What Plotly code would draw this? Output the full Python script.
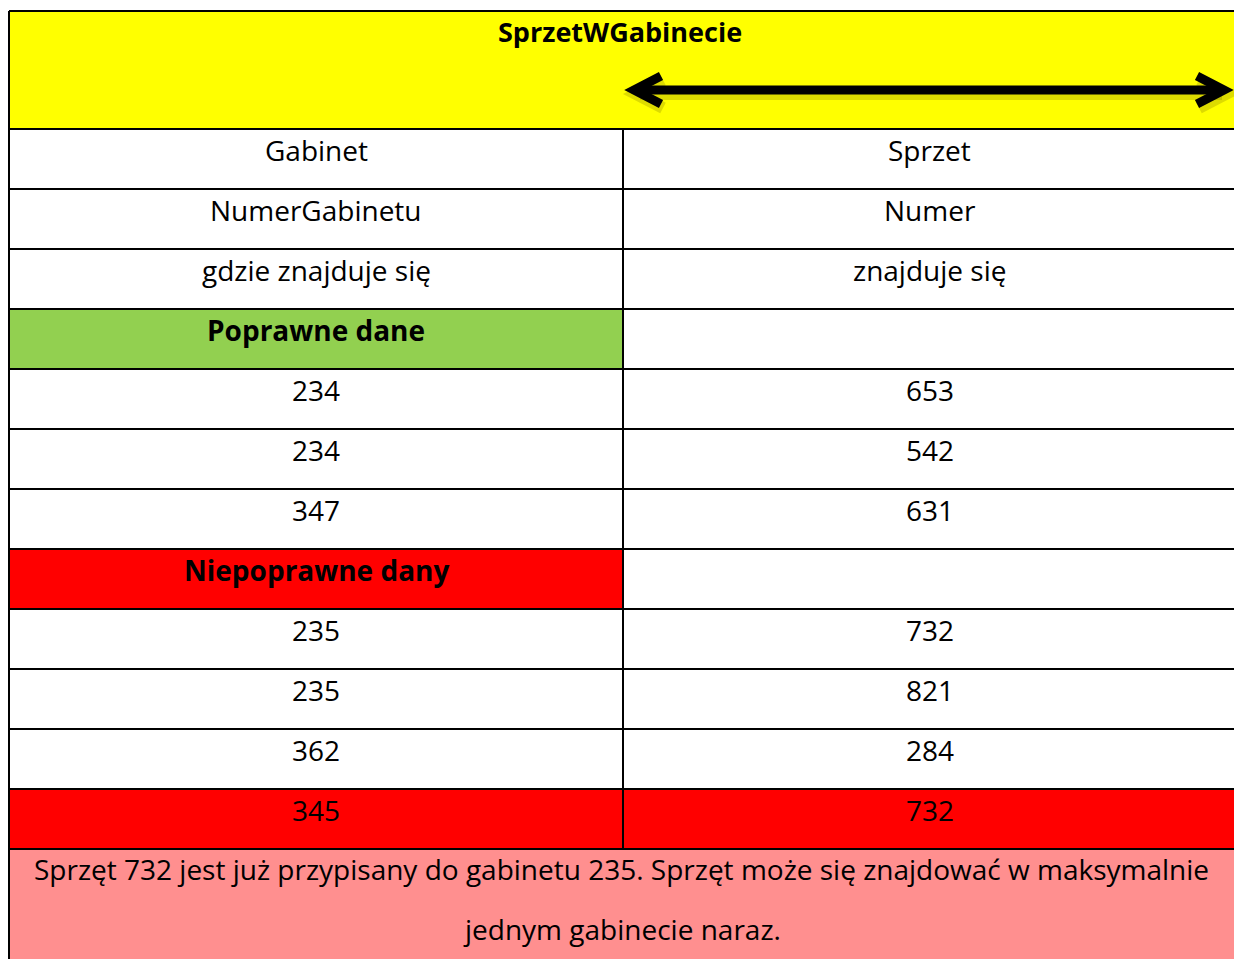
import plotly.graph_objects as go

# ---- data ----
title = "SprzetWGabinecie"
entities = ["Gabinet", "Sprzet"]
key_columns = ["NumerGabinetu", "Numer"]
relation_labels = ["gdzie znajduje się", "znajduje się"]
valid_label = "Poprawne dane"
valid_gabinet = ["234", "234", "347"]
valid_sprzet = ["653", "542", "631"]
invalid_label = "Niepoprawne dany"
invalid_gabinet = ["235", "235", "362", "345"]
invalid_sprzet = ["732", "821", "284", "732"]
message_lines = [
    "Sprzęt 732 jest już przypisany do gabinetu 235. Sprzęt może się znajdować w maksymalnie",
    "jednym gabinecie naraz.",
]

# ---- layout geometry ----
W, H = 1234, 959
X0, XM, X1 = 9, 623, 1236
TOP = 11
HEADER_BOTTOM = 129
ROW_H = 60
FONT = "Open Sans"
FS = 28

YELLOW = "#FFFF00"
GREEN = "#92D050"
RED = "#FF0000"
PINK = "#FF8F8F"

rows = []
rows.append((entities[0], entities[1], None, None, False))
rows.append((key_columns[0], key_columns[1], None, None, False))
rows.append((relation_labels[0], relation_labels[1], None, None, False))
rows.append((valid_label, "", GREEN, None, True))
for g, s in zip(valid_gabinet, valid_sprzet):
    rows.append((g, s, None, None, False))
rows.append((invalid_label, "", RED, None, True))
for i, (g, s) in enumerate(zip(invalid_gabinet, invalid_sprzet)):
    last = i == len(invalid_gabinet) - 1
    rows.append((g, s, RED if last else None, RED if last else None, False))

shapes = []
annotations = []

shapes.append(dict(type="rect", x0=X0, x1=X1, y0=TOP, y1=HEADER_BOTTOM,
                   fillcolor=YELLOW, line=dict(width=0), layer="below"))
annotations.append(dict(x=(X0 + X1) / 2 - 3, y=31, text="<b>%s</b>" % title,
                        showarrow=False, xanchor="center", yanchor="middle",
                        font=dict(family=FONT, size=FS - 1, color="black")))

row_tops = [HEADER_BOTTOM + i * ROW_H for i in range(len(rows))]
table_bottom = row_tops[-1] + ROW_H

for top, (lt, rt, lf, rf, bold) in zip(row_tops, rows):
    if lf:
        shapes.append(dict(type="rect", x0=X0, x1=XM, y0=top, y1=top + ROW_H,
                           fillcolor=lf, line=dict(width=0), layer="below"))
    if rf:
        shapes.append(dict(type="rect", x0=XM, x1=X1, y0=top, y1=top + ROW_H,
                           fillcolor=rf, line=dict(width=0), layer="below"))
    for txt, cx in ((lt, (X0 + XM) / 2), (rt, (XM + X1) / 2)):
        if txt:
            annotations.append(dict(x=cx, y=top + 21, text=("<b>%s</b>" % txt) if bold else txt,
                                    showarrow=False, xanchor="center", yanchor="middle",
                                    font=dict(family=FONT, size=FS, color="black")))

shapes.append(dict(type="rect", x0=X0, x1=X1, y0=table_bottom, y1=H + 5,
                   fillcolor=PINK, line=dict(width=0), layer="below"))
for i, line in enumerate(message_lines):
    annotations.append(dict(x=(X0 + X1) / 2 - 1, y=table_bottom + 20 + i * 60, text=line,
                            showarrow=False, xanchor="center", yanchor="middle",
                            font=dict(family=FONT, size=FS, color="black")))

LW = 2
shapes.append(dict(type="line", x0=X0, x1=X1, y0=TOP, y1=TOP, line=dict(color="black", width=LW)))
shapes.append(dict(type="line", x0=X0, x1=X0, y0=TOP, y1=H + 5, line=dict(color="black", width=LW)))
for y in [HEADER_BOTTOM] + [t + ROW_H for t in row_tops]:
    shapes.append(dict(type="line", x0=X0, x1=X1, y0=y, y1=y, line=dict(color="black", width=LW)))
shapes.append(dict(type="line", x0=XM, x1=XM, y0=HEADER_BOTTOM, y1=table_bottom,
                   line=dict(color="black", width=LW)))

AY = 90
AL, AR = 634, 1224
def arrow_paths(dx, dy):
    l = f"M {AL+27+dx},{AY-14+dy} L {AL+dx},{AY+dy} L {AL+27+dx},{AY+14+dy}"
    r = f"M {AR-27+dx},{AY-14+dy} L {AR+dx},{AY+dy} L {AR-27+dx},{AY+14+dy}"
    m = f"M {AL+4+dx},{AY+dy} L {AR-4+dx},{AY+dy}"
    return [l, r, m]
for p in arrow_paths(2, 4):
    shapes.append(dict(type="path", path=p, line=dict(color="rgba(120,110,0,0.25)", width=12)))
for p in arrow_paths(0, 0):
    shapes.append(dict(type="path", path=p, line=dict(color="black", width=9)))

fig = go.Figure()
fig.update_layout(
    width=W, height=H,
    margin=dict(l=0, r=0, t=0, b=0),
    paper_bgcolor="white", plot_bgcolor="white",
    xaxis=dict(range=[0, W], visible=False, fixedrange=True),
    yaxis=dict(range=[H, 0], visible=False, fixedrange=True),
    shapes=shapes, annotations=annotations, showlegend=False,
)
fig.write_html("out.html", config={"displayModeBar": False},
               post_script="document.body.style.margin='0';document.body.style.overflow='hidden';")
